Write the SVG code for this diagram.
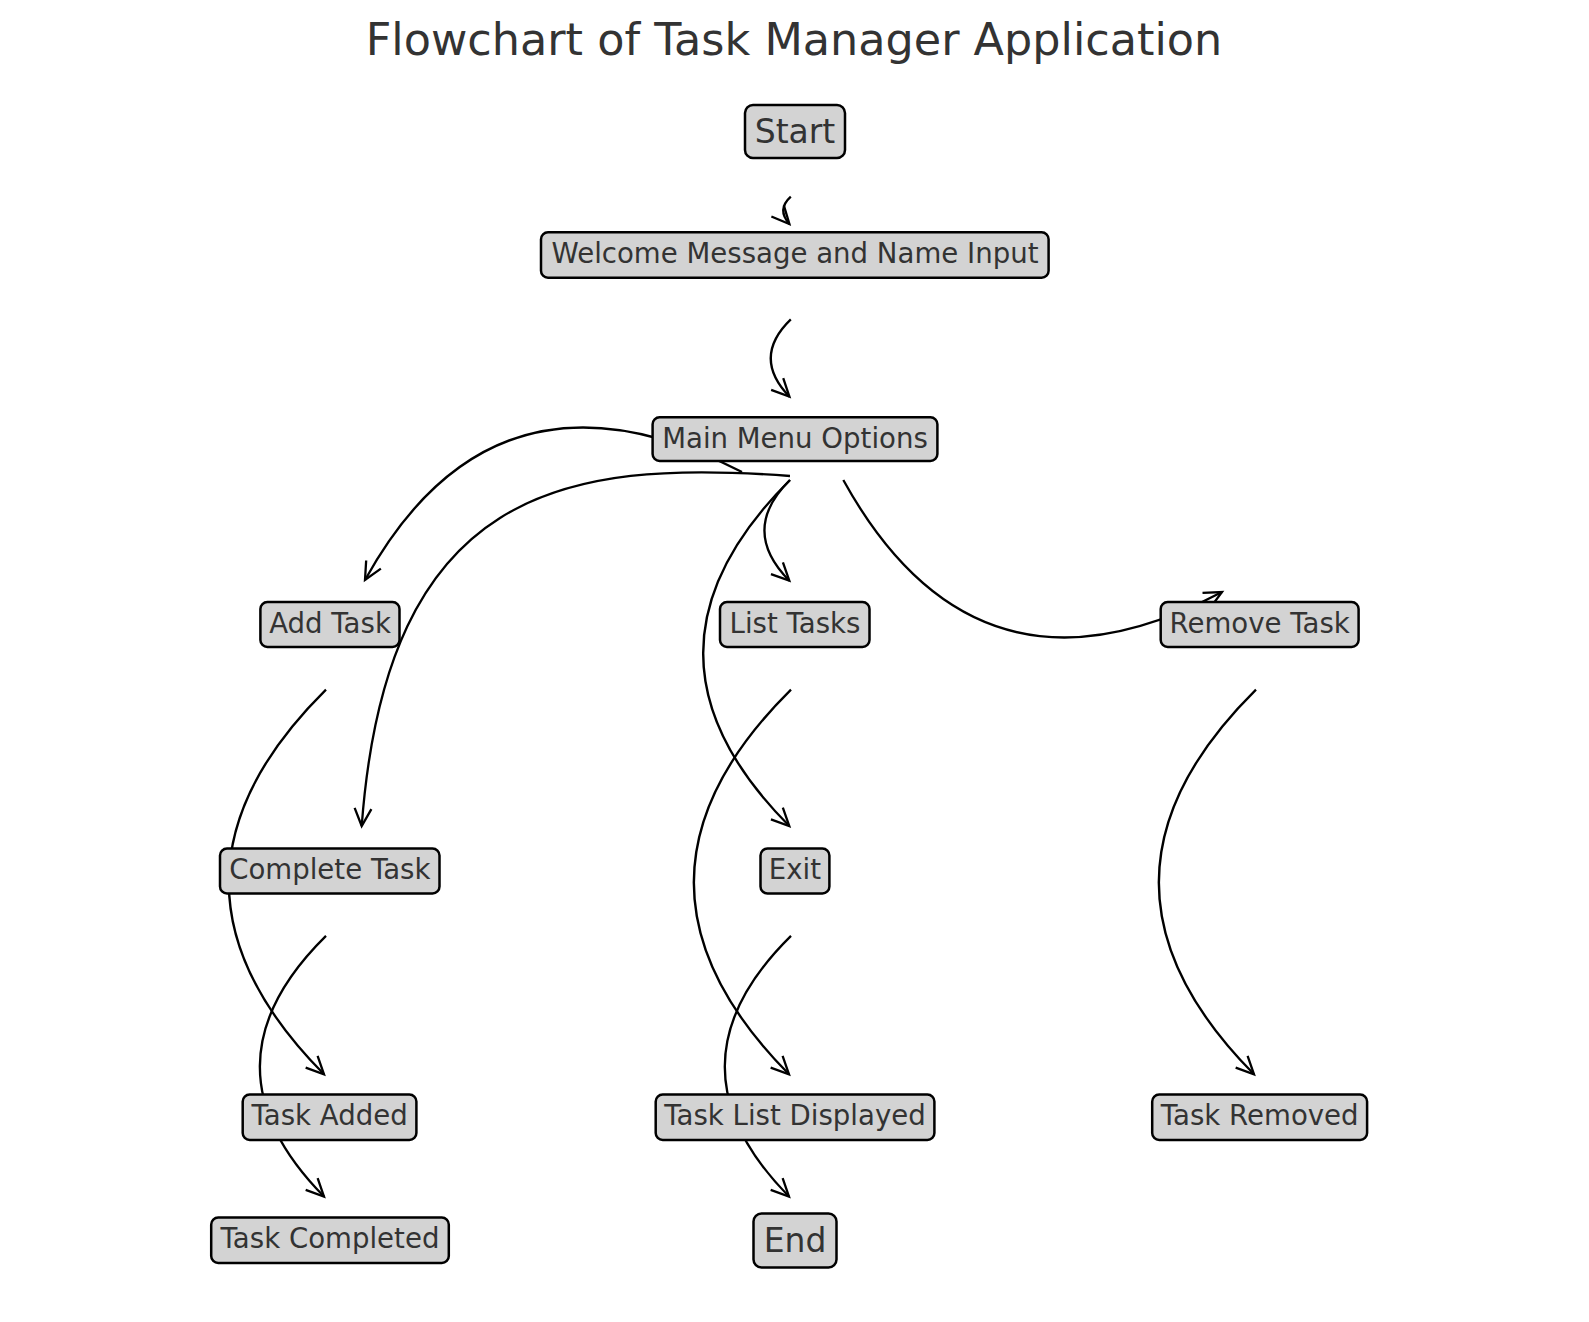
<svg xmlns="http://www.w3.org/2000/svg" width="1589" height="1322" viewBox="0 0 1589 1322">
<style>
.bg{fill:#ffffff}
.title{font-family:"DejaVu Sans","Liberation Sans",sans-serif;font-size:44.5px;fill:#333333;text-anchor:middle}
.box{fill:#d3d3d3;stroke:#000000;stroke-width:2.5}
.lbl{font-family:"DejaVu Sans","Liberation Sans",sans-serif;font-size:27.6px;fill:#333333;text-anchor:middle}
.big{font-size:33px}
.edge{fill:none;stroke:#000000;stroke-width:2.3;marker-end:url(#ah)}
</style>
<defs>
<marker id="ah" markerUnits="userSpaceOnUse" viewBox="-22 -12 26 24" markerWidth="26" markerHeight="24" refX="0" refY="0" orient="auto" overflow="visible">
<path d="M-17.6,-8.4 L0,0 L-17.6,8.4" fill="none" stroke="#000000" stroke-width="2.3" stroke-linejoin="miter"/>
</marker>
</defs>
<rect class="bg" x="0" y="0" width="1589" height="1322"/>
<text class="title" x="794" y="55">Flowchart of Task Manager Application</text>
<g id="connectors">
<path class="edge" d="M790.8,196.7 Q776.5,209.7 789.4,224"/>
<path class="edge" d="M790.8,319.3 Q751.4,357.3 789.4,396.7"/>
<path class="edge" d="M742,472 Q495,345 365,580"/>
<path class="edge" d="M790,476 C562.6,458.7 386.8,488.6 361.7,826"/>
<path class="edge" d="M790,480 Q739.3,530 789.3,580.7"/>
<path class="edge" d="M790,480 Q616.7,652.7 789.3,826"/>
<path class="edge" d="M843.3,480 Q977,722 1222,592"/>
<path class="edge" d="M326,689.6 Q132.7,881 324,1074.3"/>
<path class="edge" d="M326,935.9 Q194.7,1065.2 324,1196.5"/>
<path class="edge" d="M791,689.6 Q597.7,881 789,1074.3"/>
<path class="edge" d="M791,935.9 Q659.7,1065.2 789,1196.5"/>
<path class="edge" d="M1256,689.6 Q1062.7,881 1254,1074.3"/>
</g>
<g id="node-start"><rect class="box" x="745" y="105" width="100" height="53" rx="8"/><text class="lbl big" x="795" y="142.5">Start</text></g>
<g id="node-welcome"><rect class="box" x="541" y="232.3" width="507.6" height="45.4" rx="7"/><text class="lbl" x="795" y="263">Welcome Message and Name Input</text></g>
<g id="node-main"><rect class="box" x="652.6" y="417.3" width="284.8" height="43.7" rx="7"/><text class="lbl" x="795" y="447.5">Main Menu Options</text></g>
<g id="node-add"><rect class="box" x="260.4" y="602" width="139.1" height="45" rx="7"/><text class="lbl" x="330" y="632.5">Add Task</text></g>
<g id="node-list"><rect class="box" x="720" y="602" width="149.5" height="45" rx="7"/><text class="lbl" x="795" y="632.5">List Tasks</text></g>
<g id="node-remove"><rect class="box" x="1160.7" y="602" width="197.9" height="45" rx="7"/><text class="lbl" x="1259.7" y="632.5">Remove Task</text></g>
<g id="node-complete"><rect class="box" x="220" y="848.5" width="219.5" height="45" rx="7"/><text class="lbl" x="329.8" y="879">Complete Task</text></g>
<g id="node-exit"><rect class="box" x="760.5" y="848.5" width="68.9" height="45" rx="7"/><text class="lbl" x="795" y="879">Exit</text></g>
<g id="node-added"><rect class="box" x="242.7" y="1094.5" width="173.7" height="45.5" rx="7"/><text class="lbl" x="329.6" y="1125">Task Added</text></g>
<g id="node-listdisp"><rect class="box" x="655.7" y="1094.5" width="278.7" height="45.5" rx="7"/><text class="lbl" x="795" y="1125">Task List Displayed</text></g>
<g id="node-removed"><rect class="box" x="1152.2" y="1094.5" width="214.9" height="45.5" rx="7"/><text class="lbl" x="1259.7" y="1125">Task Removed</text></g>
<g id="node-completed"><rect class="box" x="211.2" y="1217.5" width="237.6" height="45.5" rx="7"/><text class="lbl" x="330" y="1248">Task Completed</text></g>
<g id="node-end"><rect class="box" x="753.5" y="1213.5" width="83" height="54" rx="8"/><text class="lbl big" x="795" y="1251.5">End</text></g>
</svg>
